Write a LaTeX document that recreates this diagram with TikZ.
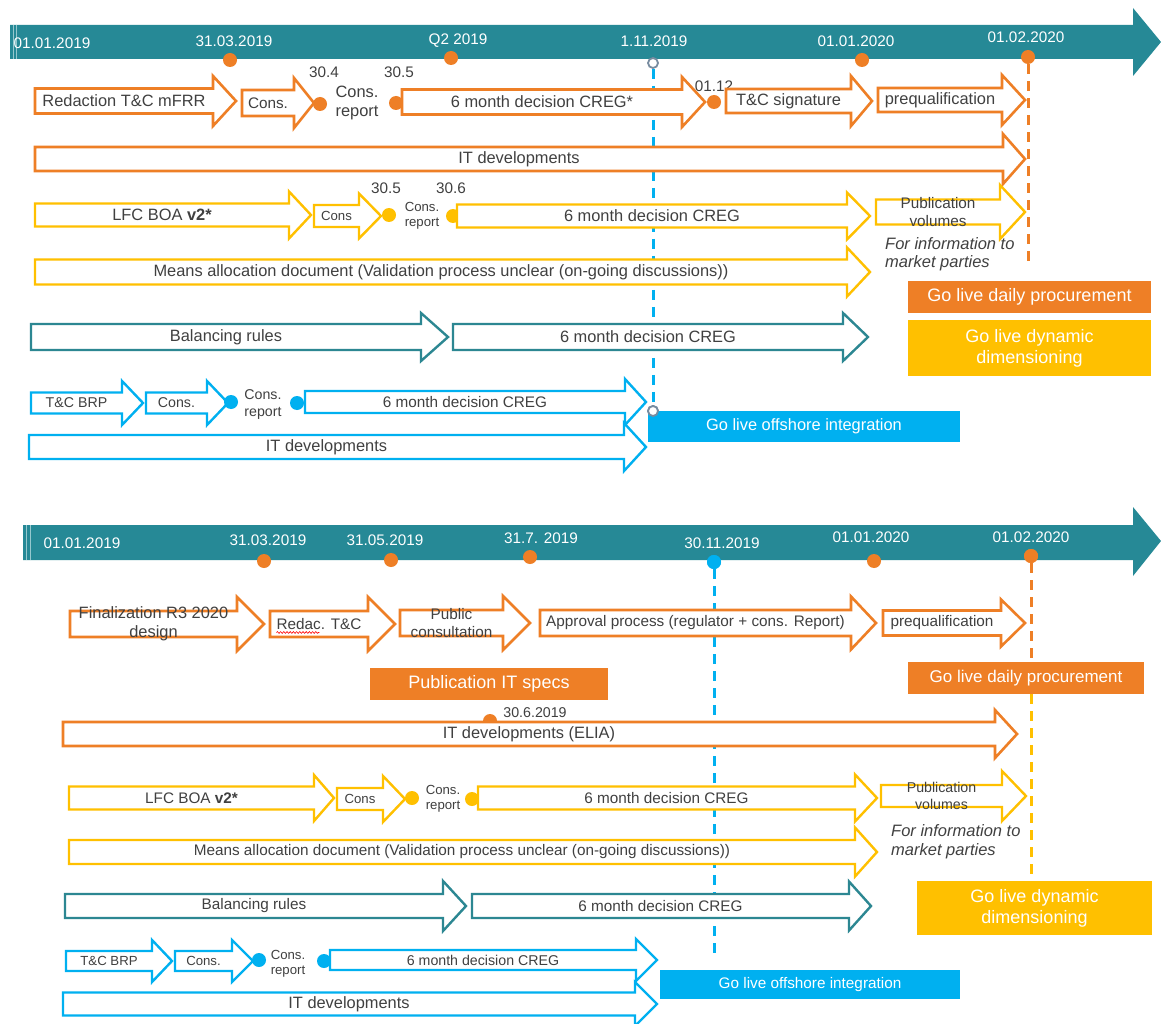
\documentclass[tikz,border=0pt]{standalone}
\usepackage{fontspec}
\setmainfont{Liberation Sans}
\usetikzlibrary{decorations.pathmorphing}

\definecolor{axteal}{RGB}{38,137,150}
\definecolor{axline}{RGB}{150,200,206}
\definecolor{cteal}{RGB}{44,135,146}
\definecolor{corange}{RGB}{238,127,38}
\definecolor{cyellow}{RGB}{255,192,0}
\definecolor{cblue}{RGB}{0,176,240}
\definecolor{ctext}{RGB}{64,64,64}
\definecolor{hollowring}{RGB}{120,140,160}

% block arrow: #1 label keys (name, font), #2 outline style,
% #3 tail x, #4 tip x, #5 centre y, #6 body half height,
% #7 head half height, #8 head length, #9 label
\newcommand\blockarrow[9]{%
  \draw[#2] (#3,#5-#6) -- (#4-#8,#5-#6) -- (#4-#8,#5-#7) -- (#4,#5)
    -- (#4-#8,#5+#7) -- (#4-#8,#5+#6) -- (#3,#5+#6) -- cycle;
  \node[lbl,#1] at ({(#3+#4-#8)/2},#5) {#9};
}

\tikzset{
  f13/.style={font=\fontsize{13.2}{15}\selectfont},
  f14/.style={font=\fontsize{14.2}{17}\selectfont},
  f15/.style={font=\fontsize{15.3}{18}\selectfont},
  f16/.style={font=\fontsize{16.4}{19}\selectfont},
  f17/.style={font=\fontsize{17}{20}\selectfont},
  f18/.style={font=\fontsize{18}{21}\selectfont},
  lbl/.style={text=ctext, inner sep=0, align=center, f16},
  axlbl/.style={text=white, inner sep=0, f15},
  oarr/.style={draw=corange, fill=white, line width=2.6, line join=miter},
  yarr/.style={draw=cyellow, fill=white, line width=2.4, line join=miter},
  tarr/.style={draw=cteal, fill=white, line width=2.4, line join=miter},
  barr/.style={draw=cblue, fill=white, line width=2.4, line join=miter},
  mdot/.style={circle, inner sep=0, minimum size=14, fill=#1},
  hollowdot/.style={circle, inner sep=0, minimum size=10, fill=white,
    draw=hollowring, line width=1.8},
  dline/.style={draw=#1, line width=3, dash pattern=on 10pt off 7pt},
  golive/.style={fill=#1, text=white, inner sep=0, align=center, f18},
  axis/.style={fill=axteal},
  edge/.style={draw=axline, line width=0.8},
}

\begin{document}
\begin{tikzpicture}[x=1pt, y=-1pt]
\path[use as bounding box, fill=white] (0,0) rectangle (1161,1024);

% ===================== upper timeline =====================
\fill[axis] (10,25) -- (1133,25) -- (1133,8) -- (1161,42) -- (1133,76)
  -- (1133,59) -- (10,59) -- cycle;
\draw[edge] (13,25) -- (13,59);
\draw[edge] (16,25) -- (16,59);

\node[axlbl] (ua1) at (52,43) {01.01.2019};
\node[axlbl] (ua2) at (234,41) {31.03.2019};
\node[axlbl] (ua3) at (458,41) {Q2 2019};
\node[axlbl] (ua4) at (654,41) {1.11.2019};
\node[axlbl] (ua5) at (856,41) {01.01.2020};
\node[axlbl] (ua6) at (1026,37) {01.02.2020};

\node[mdot=corange] (ud1) at (230,60) {};
\node[mdot=corange] (ud2) at (451,58) {};
\node[mdot=corange] (ud3) at (862,60) {};
\node[mdot=corange] (ud4) at (1028,57) {};
\node[hollowdot] (uh1) at (653,63) {};
\node[hollowdot] (uh2) at (653,411) {};
\coordinate (uend) at (1028,262);

\draw[dline=cblue] (uh1) -- (uh2);
\draw[dline=corange] (ud4) -- (uend);

% mFRR terms and conditions
\blockarrow{name=ur1a}{oarr}{35}{236}{101}{12.5}{25}{23}{Redaction T\&C mFRR}
\blockarrow{name=ur1b,f15}{oarr}{242}{314}{103}{13}{25}{20}{Cons.}
\node[mdot=corange] (ur1d1) at (320,104) {};
\node[lbl,f15] (ur1t1) at (324,72) {30.4};
\node[lbl,f15] (ur1t2) at (399,72) {30.5};
\node[lbl] (ur1c) at (357,103) {Cons.\\report};
\node[mdot=corange] (ur1d2) at (396,103) {};
\blockarrow{name=ur1e}{oarr}{402}{705}{102}{12.5}{25}{23}{6 month decision CREG*}
\node[lbl,f15] (ur1t3) at (714,86) {01.12};
\node[mdot=corange] (ur1d3) at (714,102) {};
\blockarrow{name=ur1f}{oarr}{726}{872}{101}{12}{25}{21}{T\&C signature}
\blockarrow{name=ur1g}{oarr}{878}{1025}{100}{12}{25}{23}{prequalification}

\blockarrow{name=ur2}{oarr}{35}{1025}{159}{12}{25}{22}{IT developments}

% LFC balancing
\blockarrow{name=ur3a}{yarr}{35}{311}{215}{11.5}{23.5}{22}{LFC BOA \textbf{v2*}}
\blockarrow{name=ur3b,f13}{yarr}{314}{381}{216}{11}{22.5}{22}{Cons}
\node[mdot=cyellow] (ur3d1) at (389,215) {};
\node[lbl,f15] (ur3t1) at (386,188) {30.5};
\node[lbl,f15] (ur3t2) at (451,188) {30.6};
\node[lbl,f13] (ur3c) at (422,216) {Cons.\\report};
\node[mdot=cyellow] (ur3d2) at (453,216) {};
\blockarrow{name=ur3e}{yarr}{457}{870}{216}{11.5}{23.5}{23}{6 month decision CREG}
\blockarrow{name=ur3f,f15}{yarr}{876}{1025}{212}{12.5}{27}{25}{Publication\\volumes}
\node[lbl,anchor=west,align=left,font=\fontsize{16.5}{18.5}\selectfont\itshape]
  (ur3i) at (885,254) {For information to\\market parties};

\blockarrow{name=ur4}{yarr}{35}{870}{272}{12.5}{24.5}{23}{Means allocation document (Validation process unclear (on-going discussions))}

\node[golive=corange, minimum width=243, minimum height=32] (ug1) at (1029.5,297) {Go live daily procurement};
\node[golive=cyellow, minimum width=243, minimum height=56] (ug2) at (1029.5,348) {Go live dynamic\\dimensioning};

% balancing rules
\blockarrow{name=ur5a}{tarr}{31}{448}{337}{13}{24}{27}{Balancing rules}
\blockarrow{name=ur5b}{tarr}{453}{868}{337}{13}{24}{25}{6 month decision CREG}

% BRP
\blockarrow{name=ur6a,f14}{barr}{31}{143}{403}{10.5}{22}{21}{T\&C BRP}
\blockarrow{name=ur6b,f14}{barr}{146}{228}{403}{10.5}{22}{21}{Cons.}
\node[mdot=cblue] (ur6d1) at (231,402) {};
\node[lbl,f14] (ur6c) at (263,405) {Cons.\\report};
\node[mdot=cblue] (ur6d2) at (297,403) {};
\blockarrow{name=ur6e,f15}{barr}{305}{646}{402}{11}{23}{21}{6 month decision CREG}
\blockarrow{name=ur7}{barr}{29}{646}{447}{12}{24}{22}{IT developments}

\node[golive=cblue, f16, minimum width=312, minimum height=31] (ug3) at (804,426.5) {Go live offshore integration};
\node[hollowdot] at (uh2) {};

% ===================== lower timeline =====================
\fill[axis] (23,525) -- (1133,525) -- (1133,507) -- (1161,541) -- (1133,576)
  -- (1133,560) -- (23,560) -- cycle;
\draw[edge] (26,525) -- (26,560);
\draw[edge] (30,525) -- (30,560);

\node[axlbl] (la1) at (82,543) {01.01.2019};
\node[axlbl] (la2) at (268,540) {31.03.2019};
\node[axlbl] (la3) at (385,540) {31.05.2019};
\node[axlbl] (la4) at (541,538) {31.7. 2019};
\node[axlbl] (la5) at (722,543) {30.11.2019};
\node[axlbl] (la6) at (871,537) {01.01.2020};
\node[axlbl] (la7) at (1031,537) {01.02.2020};

\node[mdot=corange] (ld1) at (264,561) {};
\node[mdot=corange] (ld2) at (391,560) {};
\node[mdot=corange] (ld3) at (530,557) {};
\node[mdot=corange] (ld4) at (874,561) {};
\node[mdot=corange] (ld5) at (1031,556) {};
\node[mdot=cblue] (ld6) at (714,562) {};
\coordinate (lend) at (714,955);

\node[golive=corange, f17, minimum width=236, minimum height=32] (lg2) at (1026,678) {Go live daily procurement};
\node[golive=cyellow, minimum width=235, minimum height=54] (lg3) at (1034.5,908) {Go live dynamic\\dimensioning};

\draw[dline=cblue] (ld6) -- (lend);
\draw[dline=corange] (ld5) -- (lg2.north -| ld5);
\draw[dline=cyellow] (lg2.south -| ld5) -- (lg3.north -| ld5);
\node[mdot=cblue] at (ld6) {};
\node[mdot=corange] at (ld5) {};

% R3 design and terms and conditions
\blockarrow{name=lr1a}{oarr}{70}{264}{624}{13}{27}{27}{Finalization R3 2020\\design}
\blockarrow{name=lr1b,f15}{oarr}{270}{395}{624}{13}{27}{27}{Redac. T\&C}
\draw[red, line width=0.6, decorate, decoration={snake, amplitude=0.9, segment length=3.2}]
  ([yshift=-3pt]lr1b.base west) -- ++(43,0);
\blockarrow{name=lr1c,f15}{oarr}{400}{530}{623}{13}{27}{27}{Public\\consultation}
\blockarrow{name=lr1d,f15}{oarr}{540}{876}{623}{13}{26.5}{25}{Approval process (regulator + cons. Report)}
\blockarrow{name=lr1e,f15}{oarr}{883}{1025}{623}{12.5}{23.5}{24}{prequalification}

\node[golive=corange, minimum width=238, minimum height=32] (lg1) at (489,684) {Publication IT specs};

% IT developments with milestone
\node[mdot=corange] (lr2d) at (490,721) {};
\node[lbl,f14] (lr2t) at (535,713) {30.6.2019};
\blockarrow{name=lr2}{oarr}{63}{1017}{734}{12}{24}{22}{IT developments (ELIA)}

% LFC balancing
\blockarrow{name=lr3a,f15}{yarr}{69}{334}{798}{11.5}{23}{20}{LFC BOA \textbf{v2*}}
\blockarrow{name=lr3b,f13}{yarr}{337}{405}{799}{11}{23}{22}{Cons}
\node[mdot=cyellow] (lr3d1) at (412,798) {};
\node[lbl,f13] (lr3c) at (443,799) {Cons.\\report};
\node[mdot=cyellow] (lr3d2) at (472,799) {};
\blockarrow{name=lr3e,f15}{yarr}{478}{877}{798}{11.5}{23.5}{22}{6 month decision CREG}
\blockarrow{name=lr3f,f14}{yarr}{881}{1026}{796}{11}{25}{24}{Publication\\volumes}
\node[lbl,anchor=west,align=left,font=\fontsize{16.5}{19}\selectfont\itshape]
  (lr3i) at (891,841.5) {For information to\\market parties};

\blockarrow{name=lr4,f15}{yarr}{69}{877}{852}{12}{24.5}{22}{Means allocation document (Validation process unclear (on-going discussions))}

% balancing rules
\blockarrow{name=lr5a,f15}{tarr}{65}{466}{906}{12}{25}{23}{Balancing rules}
\blockarrow{name=lr5b,f15}{tarr}{472}{871}{906}{12}{24.5}{22}{6 month decision CREG}

% BRP
\blockarrow{name=lr6a,f13}{barr}{66}{172}{961}{10}{21}{20}{T\&C BRP}
\blockarrow{name=lr6b,f13}{barr}{175}{253}{961}{10}{21}{21}{Cons.}
\node[mdot=cblue] (lr6d1) at (259,960) {};
\node[lbl,f13] (lr6c) at (288,964) {Cons.\\report};
\node[mdot=cblue] (lr6d2) at (324,961) {};
\blockarrow{name=lr6e,f14}{barr}{330}{657}{960}{10}{21}{21}{6 month decision CREG}
\blockarrow{name=lr7}{barr}{63}{657}{1004}{11.5}{22}{22}{IT developments}

\node[golive=cblue, f15, minimum width=300, minimum height=29] (lg4) at (810,984.5) {Go live offshore integration};
\end{tikzpicture}
\end{document}
